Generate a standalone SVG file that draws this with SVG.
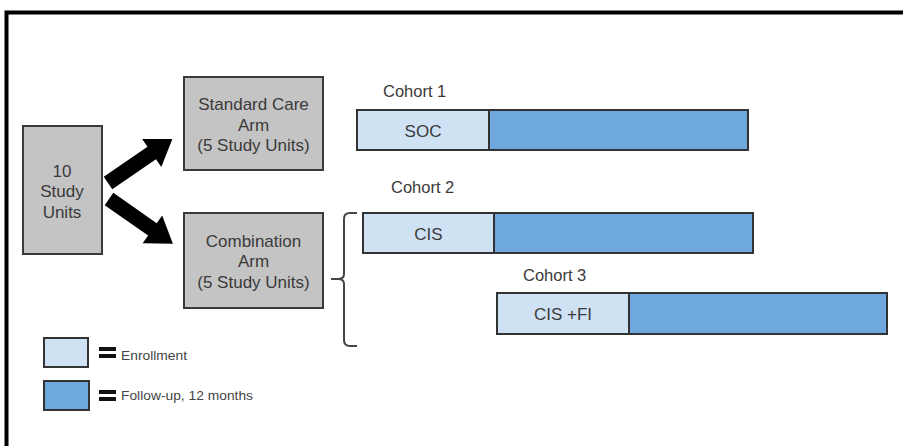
<svg xmlns="http://www.w3.org/2000/svg" width="903" height="446" viewBox="0 0 903 446">
<style>
  text { font-family: "Liberation Sans", Arial, sans-serif; fill: #3a3a3a; }
  .box { fill: #c4c4c4; stroke: #3a3a3a; stroke-width: 2; }
  .lbl { font-size: 17px; text-anchor: middle; }
  .enr { fill: #cfe2f3; stroke: #333; stroke-width: 2; }
  .fu { fill: #6fa8dc; stroke: #333; stroke-width: 2; }
  .coh { font-size: 16.5px; }
  .leg { font-size: 12.5px; fill: #444; }
  .arrow { fill: #000; }
  .brk { fill: none; stroke: #444; stroke-width: 2; }
</style>
<rect width="903" height="446" fill="#fff"/>
<path d="M6.5 446 V12.5 H903" fill="none" stroke="#000" stroke-width="4"/>

<g id="study-units">
  <rect class="box" x="23" y="126" width="79" height="128"/>
  <text class="lbl" x="62" y="177">10</text>
  <text class="lbl" x="62" y="197">Study</text>
  <text class="lbl" x="62" y="218">Units</text>
</g>
<g id="standard-arm">
  <rect class="box" x="184" y="77" width="139" height="93"/>
  <text class="lbl" x="253.5" y="110">Standard Care</text>
  <text class="lbl" x="253.5" y="131">Arm</text>
  <text class="lbl" x="253.5" y="151">(5 Study Units)</text>
</g>
<g id="combination-arm">
  <rect class="box" x="184" y="213" width="139" height="95"/>
  <text class="lbl" x="253.5" y="247">Combination</text>
  <text class="lbl" x="253.5" y="267">Arm</text>
  <text class="lbl" x="253.5" y="288">(5 Study Units)</text>
</g>

<g id="connectors">
  <polygon class="arrow" transform="translate(108,183) rotate(-34.4)" points="0,-7.5 53,-7.5 53,-17 78,0 53,17 53,7.5 0,7.5"/>
  <polygon class="arrow" transform="translate(109,199) rotate(35)" points="0,-7.5 53,-7.5 53,-17 78,0 53,17 53,7.5 0,7.5"/>
  <path class="brk" d="M357 213 H350 Q344 213 344 219 V274 Q344 279 338 279 H331 M338 279 Q344 279 344 284 V340 Q344 346 350 346 H357"/>
</g>

<g id="cohort-1">
  <text class="coh" x="383" y="97">Cohort 1</text>
  <rect class="enr" x="357" y="110" width="132" height="40"/>
  <rect class="fu" x="489" y="110" width="259" height="40"/>
  <text class="lbl" x="423" y="137">SOC</text>
</g>
<g id="cohort-2">
  <text class="coh" x="391" y="193">Cohort 2</text>
  <rect class="enr" x="363" y="213" width="131" height="40"/>
  <rect class="fu" x="494" y="213" width="259" height="40"/>
  <text class="lbl" x="428.5" y="240">CIS</text>
</g>
<g id="cohort-3">
  <text class="coh" x="523" y="281">Cohort 3</text>
  <rect class="enr" x="497" y="293" width="132" height="41"/>
  <rect class="fu" x="629" y="293" width="258" height="41"/>
  <text class="lbl" x="563" y="320">CIS +FI</text>
</g>

<g id="legend-enrollment">
  <rect class="enr" x="44" y="338" width="44" height="29"/>
  <rect x="99" y="347" width="17" height="4" fill="#111"/>
  <rect x="99" y="354" width="17" height="4" fill="#111"/>
  <text class="leg" x="121" y="360" textLength="66" lengthAdjust="spacingAndGlyphs">Enrollment</text>
</g>
<g id="legend-followup">
  <rect class="fu" x="44" y="381" width="45" height="29"/>
  <rect x="99" y="390" width="17" height="4" fill="#111"/>
  <rect x="99" y="397" width="17" height="4" fill="#111"/>
  <text class="leg" x="121" y="400" textLength="132" lengthAdjust="spacingAndGlyphs">Follow-up, 12 months</text>
</g>
</svg>
